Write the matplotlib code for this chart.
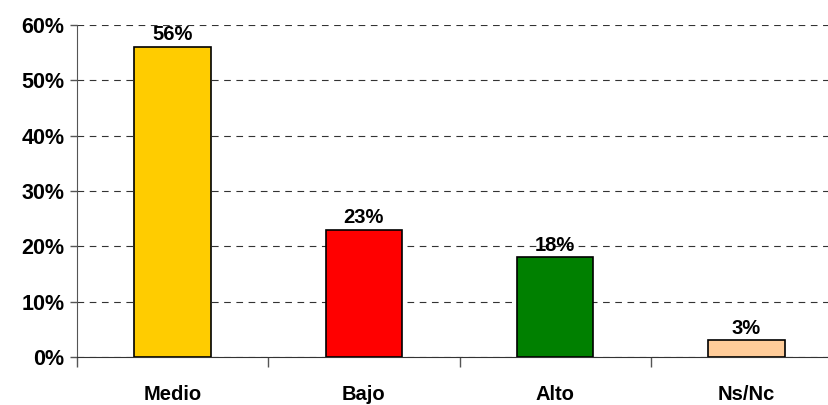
import matplotlib.pyplot as plt
import numpy as np

categorias = ['Medio', 'Bajo', 'Alto', 'Ns/Nc']
porcentajes = [56, 23, 18, 3]
colores = ['#FFCC00', '#FF0000', '#008000', '#FFCC99']

plt.rcParams['font.family'] = ['Liberation Sans', 'DejaVu Sans']
plt.rcParams['font.weight'] = 'bold'

fig = plt.figure(figsize=(8.29, 4.05), dpi=100)
ax = fig.add_axes([77/829, 1 - 357/405, 1 - 77/829, 332/405])

x = np.arange(len(categorias))
barras = ax.bar(x, porcentajes, width=0.4, color=colores,
                edgecolor='black', linewidth=1.2, zorder=3)

for b, v in zip(barras, porcentajes):
    ax.annotate(f'{v}%', (b.get_x() + b.get_width()/2, v),
                xytext=(0, 2), textcoords='offset points',
                ha='center', va='bottom', fontsize=14.5, fontweight='bold')

ax.set_ylim(0, 60)
ax.set_xlim(-0.5, 3.5 - 13/191)
ax.set_yticks(range(0, 61, 10))
ax.set_yticklabels([f'{t}%' for t in range(0, 61, 10)], fontsize=15.5, fontweight='bold')

# ticks de categoria en los bordes, etiquetas en el centro
ax.set_xticks(np.arange(-0.5, 3.5, 1))
ax.set_xticklabels([])
ax.set_xticks(x, minor=True)
ax.set_xticklabels(categorias, minor=True, fontsize=14.5, fontweight='bold')
ax.tick_params(axis='x', which='minor', length=0, pad=20)
ax.tick_params(axis='x', which='major', length=7, width=1, color='#555555')
ax.tick_params(axis='y', length=5, width=1, color='#555555', pad=4)

ax.yaxis.grid(True, linestyle=(0, (6, 5)), color='#333333', linewidth=0.8, zorder=0)
for s in ['top', 'right']:
    ax.spines[s].set_visible(False)
ax.spines['left'].set_color('#555555')
ax.spines['bottom'].set_color('#333333')

fig.savefig('out.png', dpi=100)
